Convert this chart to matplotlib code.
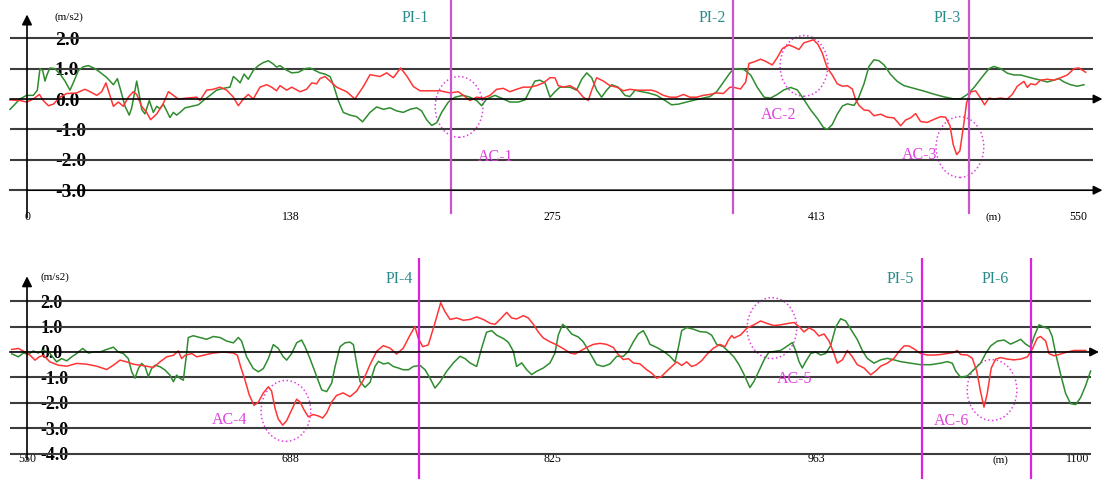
import matplotlib.pyplot as plt
from matplotlib.patches import Ellipse

plt.rcParams['font.family'] = ['Liberation Serif', 'DejaVu Serif']

# ---- upper section, 0-550 m ----
top_red_d = [-8.9, -3.7, -0.2, 3.3, 6.5, 8.5, 11.2, 13.8, 17.3, 20.8, 26.0, 30.3, 33.0, 36.5, 39.1, 41.3,
             43.1, 45.2, 47.8, 50.4, 53.0, 55.6, 57.4, 60.0, 62.6, 64.7, 67.9, 71.3, 74.0, 76.6, 79.2, 83.6,
             88.8, 90.5, 94.0, 97.5, 101.0, 104.5, 108.0, 110.6, 113.2, 115.8, 118.4, 121.9, 125.4, 128.0,
             130.6, 132.4, 135.9, 138.5, 142.9, 146.3, 149.0, 151.6, 153.3, 155.9, 158.6, 162.0, 167.3,
             171.6, 176.0, 179.5, 184.7, 188.2, 191.7, 195.5, 198.7, 202.2, 205.7, 210.9, 216.1, 221.4,
             225.7, 229.2, 231.8, 235.3, 238.8, 242.3, 245.8, 249.3, 252.7, 256.2, 259.7, 263.2, 266.7,
             270.2, 273.7, 276.3, 278.0, 280.7, 284.1, 287.6, 291.1, 293.7, 295.5, 298.1, 301.6, 305.1,
             308.6, 312.1, 315.5, 319.0, 322.5, 326.9, 329.5, 333.0, 336.5, 340.0, 343.5, 346.9, 350.4,
             353.9, 357.4, 360.9, 364.4, 367.9, 370.0, 373.4, 376.1, 377.8, 380.4, 383.9, 386.5, 390.0,
             392.6, 395.3, 398.7, 401.4, 404.0, 406.6, 409.2, 411.5, 413.9, 416.2, 418.8, 421.4, 424.0,
             426.7, 429.3, 431.9, 433.6, 435.4, 438.0, 440.6, 443.2, 446.7, 450.2, 453.7, 457.2, 459.8,
             462.4, 465.0, 467.6, 471.1, 474.6, 478.1, 480.7, 483.0, 484.7, 486.5, 488.2, 490.3, 491.7,
             493.8, 496.4, 499.0, 501.1, 503.4, 506.0, 509.5, 513.0, 515.6, 518.2, 521.7, 523.5, 525.2,
             527.8, 530.4, 533.9, 537.4, 540.9, 544.4, 547.9, 550.5, 554.0]
top_red = [-0.03, -0.05, -0.1, 0, 0.15, -0.05, -0.22, -0.17, 0.06, 0.18, 0.2, 0.32, 0.24, 0.12, 0.24, 0.53,
           0.18, -0.24, -0.1, -0.24, 0.06, 0.24, 0.15, -0.24, -0.44, -0.68, -0.49, -0.15, 0.24, 0.12, 0, 0.03,
           0.06, -0.05, 0.29, 0.32, 0.39, 0.29, 0.06, -0.22, 0, 0.15, 0, 0.39, 0.47, 0.39,
           0.27, 0.44, 0.29, 0.39, 0.24, 0.32, 0.53, 0.5, 0.67, 0.74, 0.59, 0.39, 0.24,
           0, 0.41, 0.8, 0.74, 0.86, 0.7, 1.02, 0.76, 0.41, 0.27, 0.27, 0.27, 0.2,
           0.24, 0.08, -0.05, 0.06, 0.03, 0.12, 0.32, 0.35, 0.24, 0.32, 0.39, 0.39, 0.44,
           0.53, 0.7, 0.7, 0.44, 0.39, 0.44, 0.32, 0.06, -0.05, 0.29, 0.7, 0.59, 0.44,
           0.39, 0.27, 0.32, 0.29, 0.29, 0.29, 0.24, 0.12, 0.06, 0.06, 0.15, 0.06, 0.06,
           0.12, 0.15, 0.2, 0.18, 0.39, 0.38, 0.33, 0.56, 1.17, 1.22, 1.31, 1.24, 1.12,
           1.36, 1.66, 1.78, 1.71, 1.63, 1.85, 1.9, 1.95, 1.8, 1.51, 1.02, 0.79, 0.5,
           0.42, 0.44, 0.33, -0.02, -0.21, -0.36, -0.38, -0.55, -0.5, -0.6, -0.62, -0.88, -0.69,
           -0.62, -0.48, -0.74, -0.77, -0.67, -0.58, -0.6, -0.88, -1.5, -1.83, -1.7, -0.79, -0.12,
           0.23, 0.27, 0.03, -0.19, 0.03, 0, 0.03, 0, 0.15, 0.42, 0.58, 0.38, 0.5,
           0.47, 0.62, 0.65, 0.62, 0.7, 0.79, 1.0, 1.02, 0.88]

top_green_d = [-8.9, -6.3, -3.7, -0.2, 3.3, 5.4, 6.8, 8.2, 9.4, 10.6, 12.0, 14.6, 17.3, 19.9, 22.5, 24.6,
               26.9, 29.5, 32.1, 35.6, 38.2, 41.7, 45.2, 47.3, 49.0, 51.3, 53.5, 54.8, 56.5, 57.4, 58.8,
               60.0, 61.7, 64.0, 66.1, 67.9, 69.6, 71.3, 73.1, 74.8, 76.6, 78.3, 80.1, 82.7, 86.2, 89.7,
               92.3, 95.8, 99.2, 102.7, 106.2, 108.0, 109.7, 111.5, 113.6, 115.8, 118.4, 121.1, 123.7,
               126.3, 128.9, 130.6, 132.4, 135.0, 138.5, 142.0, 145.5, 148.1, 150.7, 153.3, 155.9, 158.6,
               160.3, 162.9, 165.5, 169.0, 172.5, 175.6, 177.7, 179.5, 183.0, 186.5, 190.0, 193.4, 196.9,
               200.4, 203.9, 206.5, 209.1, 211.8, 214.4, 217.0, 220.5, 224.0, 228.3, 231.8, 235.3, 237.9,
               240.5, 244.9, 249.3, 252.7, 257.1, 260.6, 263.2, 265.8, 268.4, 271.1, 273.7, 276.3, 278.9,
               284.1, 287.6, 290.3, 292.9, 295.5, 298.1, 300.7, 303.3, 306.0, 309.4, 312.9, 315.5, 318.2,
               321.7, 325.1, 329.5, 333.9, 337.3, 340.8, 345.2, 349.6, 353.9, 357.4, 360.9, 364.4, 367.9,
               370.0, 375.2, 378.7, 382.2, 385.7, 389.1, 392.6, 396.1, 399.6, 403.1, 406.6, 410.1, 413.6,
               416.7, 418.8, 421.4, 424.0, 426.7, 429.3, 432.8, 434.8, 438.0, 440.6, 443.2, 445.8, 448.5,
               451.9, 455.4, 458.9, 464.2, 469.4, 474.6, 479.9, 485.1, 488.6, 492.1, 495.6, 499.9, 503.4,
               506.0, 509.5, 513.0, 516.5, 520.0, 523.5, 527.0, 530.4, 533.9, 537.4, 540.0, 542.7, 546.1,
               549.6, 553.1]
top_green = [-0.34, -0.17, 0, 0.12, 0.12, 0.29, 1.0, 0.94, 0.59, 0.82, 1.02, 1.0, 0.82, 0.59, 0.29, 0.59,
             0.94, 1.06, 1.1, 1.0, 0.88, 0.71, 0.47, 0.67, 0.29, -0.24, -0.53, -0.29, 0.29, 0.59, 0.12,
             -0.34, -0.49, -0.05, -0.44, -0.24, -0.32, -0.17, -0.39, -0.61, -0.44, -0.53, -0.44, -0.29, -0.24, -0.19,
             -0.05, 0.12, 0.29, 0.35, 0.39, 0.74, 0.65, 0.53, 0.82, 0.65, 0.94, 1.1, 1.2,
             1.26, 1.15, 1.05, 1.1, 0.98, 0.86, 0.88, 1.0, 1.02, 0.94, 0.86, 0.82, 0.74,
             0.47, -0.05, -0.44, -0.53, -0.58, -0.75, -0.58, -0.44, -0.26, -0.34, -0.29, -0.39, -0.44,
             -0.34, -0.29, -0.39, -0.68, -0.87, -0.78, -0.44, -0.1, 0.06, 0.12, 0.06, -0.05, -0.22,
             0, 0.12, 0, -0.1, -0.1, -0.03, 0.29, 0.59, 0.62, 0.53, 0.06, 0.24, 0.39,
             0.39, 0.29, 0.65, 0.86, 0.7, 0.29, 0.06, 0.29, 0.47, 0.39, 0.12, 0.08, 0.29,
             0.24, 0.2, 0.12, -0.05, -0.19, -0.17, -0.1, -0.03, 0.03, 0.08, 0.24, 0.55, 0.86,
             1.0, 0.97, 0.79, 0.38, 0.06, 0.03, 0.15, 0.3, 0.38, 0.3, -0.02, -0.36, -0.64,
             -0.93, -1.0, -0.84, -0.5, -0.23, -0.16, -0.21, -0.02, 0.5, 1.07, 1.29, 1.26, 1.12,
             0.81, 0.58, 0.44, 0.35, 0.26, 0.16, 0.07, 0, 0.01, 0.15, 0.38, 0.73, 1.0,
             1.07, 1.0, 0.85, 0.79, 0.79, 0.73, 0.67, 0.62, 0.56, 0.62, 0.67, 0.56, 0.47,
             0.42, 0.47]

# ---- lower section, 550-1100 m ----
bot_red_d = [542.0, 545.5, 548.9, 551.6, 554.2, 556.4, 558.6, 562.0, 566.4, 570.8, 576.0, 581.2, 586.5,
             591.7, 595.2, 598.7, 602.2, 605.6, 609.1, 612.6, 616.1, 619.6, 623.1, 626.6, 629.2, 630.9,
             632.7, 636.2, 638.8, 642.3, 647.5, 652.7, 658.0, 660.1, 661.8, 664.1, 666.3, 668.8, 671.1,
             673.7, 676.3, 678.0, 679.8, 681.5, 683.8, 685.9, 688.5, 691.1, 692.9, 695.0, 697.2, 699.8,
             702.5, 704.7, 706.8, 709.4, 712.0, 715.5, 719.0, 722.5, 726.0,
             729.5, 733.0, 736.5, 740.0, 743.4, 746.9, 750.4, 753.0, 754.8, 757.1, 760.0, 763.5, 766.5,
             768.7, 771.4, 774.8, 778.3, 781.8, 785.3, 788.8, 792.3, 794.9, 797.5, 801.0, 803.6, 806.2,
             809.7, 812.3, 815.0, 817.6, 820.2, 823.7, 827.2, 830.7, 834.2, 836.8, 839.4, 842.9, 846.4,
             849.9, 853.3, 856.8, 859.4, 862.1, 864.7, 867.3, 870.8, 874.3, 876.9, 879.5, 882.1, 884.7,
             887.4, 890.0, 892.6, 895.2, 897.8, 900.4, 903.1, 905.7, 909.2, 912.6, 915.3, 917.0, 918.8,
             920.0, 923.4, 926.9, 930.4, 933.9, 937.4, 940.9, 944.4, 947.9, 951.4, 954.0, 956.6, 959.2,
             961.8, 964.4, 967.1, 969.7, 972.3, 974.0, 976.7, 979.3, 981.9, 984.5, 988.0, 991.5, 994.1,
             996.7, 1000.2, 1003.7, 1006.3, 1009.0, 1011.5, 1014.2, 1017.6, 1021.1, 1024.6, 1028.1,
             1031.6, 1035.1, 1036.8, 1038.6, 1042.1, 1044.7, 1047.0, 1049.0, 1050.8, 1052.5, 1054.6,
             1056.9, 1059.5, 1063.0, 1066.5, 1070.0, 1073.5, 1076.1, 1078.7, 1080.4, 1083.1, 1084.8,
             1087.4, 1090.0, 1094.4, 1097.9, 1101.4, 1104.0]
bot_red = [0.1, 0.14, 0, -0.13, -0.32, -0.19, -0.13, -0.39, -0.52, -0.56, -0.45, -0.48, -0.56,
           -0.69, -0.52, -0.32, -0.39, -0.48, -0.52, -0.56, -0.61, -0.39, -0.19, -0.13, 0.04, -0.26,
           -0.13, -0.06, -0.19, -0.13, -0.04, 0, -0.04, -0.13, -0.58, -1.11, -1.69, -2.1, -1.97,
           -1.61, -1.37, -1.54, -2.22, -2.64, -2.88, -2.7, -2.28, -1.86, -1.97, -2.28, -2.55, -2.46,
           -2.52, -2.6, -2.4, -1.97, -1.71, -1.61, -1.76, -1.54, -1.11,
           -0.5, 0.03, 0.25, 0.15, -0.08, 0.15, 0.66, 1.0, 0.53, 0.21, 0.28, 1.15, 1.94,
           1.59, 1.28, 1.34, 1.25, 1.28, 1.38, 1.28, 1.13, 1.09, 1.28, 1.56, 1.34, 1.3,
           1.43, 1.34, 1.09, 0.78, 0.55, 0.4, 0.28, 0.13, -0.04, -0.08, 0.03, 0.18, 0.3,
           0.34, 0.3, 0.18, -0.1, -0.3, -0.26, -0.43, -0.47, -0.7, -0.83, -1.03, -0.96, -0.76,
           -0.57, -0.39, -0.53, -0.39, -0.57, -0.5, -0.34, -0.1, 0.15, 0.3, 0.21, 0.46, 0.65,
           0.55, 0.67, 0.95, 1.07, 1.22, 1.12, 1.04, 1.07, 1.12, 1.16, 1.0, 0.79, 0.95,
           0.85, 0.63, 0.71, 0.43, -0.06, -0.44, -0.31, 0.06, -0.19, -0.5, -0.63, -0.9, -0.75,
           -0.56, -0.44, -0.25, 0.02, 0.24, 0.24, 0.12, -0.06, -0.12, -0.12, -0.1,
           -0.06, -0.02, 0.06, -0.1, -0.12, -0.25, -0.75, -1.56, -2.17, -1.63, -0.63,
           -0.28, -0.22, -0.28, -0.31, -0.28, -0.19, 0.12, 0.55, 0.61, 0.43, -0.06,
           -0.15, -0.1, 0, 0.06, 0.06, 0.06]

bot_green_d = [542.0, 545.5, 548.1, 550.7, 553.3, 555.9, 558.6, 562.0, 565.5, 568.1, 570.8, 573.4, 576.0,
               579.1, 582.1, 584.7, 588.2, 591.7, 595.2, 597.8, 600.4, 603.0, 604.8, 606.5, 608.3, 610.0,
               611.8, 613.5, 615.2, 617.0, 619.6, 622.2, 624.8, 626.6, 628.3, 630.1, 631.8, 633.2, 634.4,
               637.0, 640.5, 644.0, 647.5, 651.0, 654.5, 658.0, 660.6, 662.3, 664.9, 668.4, 671.1, 673.7,
               676.3, 678.9, 681.5, 684.1, 685.9, 688.5, 691.1, 693.7, 695.5, 698.1, 701.6, 704.2, 706.8,
               709.4, 711.2, 713.8, 716.4, 719.0, 720.8, 722.5, 724.3, 726.9,
               729.5, 732.1, 733.9, 736.5, 739.1, 741.7, 744.3, 746.9, 749.6, 752.2, 755.7, 758.3, 760.9,
               763.5, 766.1, 769.6, 773.1, 776.6, 779.2, 781.8, 785.3, 787.9, 790.5, 793.2, 795.8, 799.3,
               801.9, 804.5, 806.2, 808.9, 811.5, 814.1, 816.7, 820.2, 823.7, 826.3, 828.0, 830.3, 832.4,
               835.0, 838.5, 841.1, 844.6, 848.1, 851.6, 855.1, 858.6, 862.1, 864.7, 867.3, 869.9, 872.5,
               874.3, 876.0, 879.5, 883.0, 886.5, 889.1, 890.8, 892.6, 895.2, 898.7, 902.2, 905.7, 908.3,
               910.9, 914.4, 917.9,
               920.0, 922.6, 925.2, 928.3, 930.4, 933.0, 935.7, 938.3, 940.9, 944.4, 947.9, 950.5, 952.2,
               954.0, 955.7, 957.5, 960.1, 962.7, 965.3, 967.9, 970.5, 973.2, 975.8, 978.4, 981.0, 984.5,
               987.1, 989.7, 993.2, 996.7, 1000.2, 1003.7, 1007.2, 1012.4, 1017.6, 1022.9, 1028.1, 1031.6,
               1034.2, 1036.0, 1038.6, 1042.1, 1045.6, 1049.0, 1051.7, 1054.3, 1057.8, 1061.3, 1064.7,
               1067.4, 1070.0, 1072.6, 1075.2, 1077.0, 1079.6, 1082.2, 1084.8, 1086.5, 1088.3, 1090.9,
               1093.5, 1096.1, 1098.8, 1101.4, 1104.0, 1106.6]
bot_green = [-0.07, -0.19, -0.04, -0.09, 0.04, -0.04, 0.07, -0.06, -0.39, -0.26, -0.35, -0.19, -0.06,
             0.14, -0.04, 0, 0, 0.1, 0.19, 0, -0.06, -0.26, -0.78, -1.03, -0.65, -0.45,
             -0.58, -0.97, -0.65, -0.52, -0.58, -0.71, -0.91, -1.17, -0.91, -1.04, -1.11, -0.26, 0.57,
             0.64, 0.57, 0.5, 0.61, 0.57, 0.43, 0.36, 0.57, 0.43, -0.19, -0.65, -0.78, -0.65,
             -0.26, 0.29, 0.14, -0.19, -0.32, -0.06, 0.36, 0.47, 0.21, -0.26, -0.97, -1.49, -1.56,
             -1.23, -0.58, 0.21, 0.36, 0.39, 0.29, -0.45, -1.17, -1.39,
             -1.2, -0.57, -0.37, -0.47, -0.43, -0.57, -0.63, -0.7, -0.7, -0.57, -0.53, -0.7, -1.03,
             -1.42, -1.18, -0.76, -0.43, -0.17, -0.26, -0.43, -0.57, 0.15, 0.78, 0.84, 0.66, 0.53,
             0.38, 0.03, -0.57, -0.43, -0.7, -0.89, -0.76, -0.63, -0.43, -0.04, 0.66, 1.09, 0.96,
             0.71, 0.59, 0.4, -0.04, -0.5, -0.57, -0.47, -0.17, -0.17, 0.03, 0.4, 0.71, 0.84,
             0.59, 0.3, 0.18, 0.03, -0.17, -0.39, 0.15, 0.84, 0.96, 0.9, 0.8, 0.78, 0.66,
             0.3, 0.21, -0.04,
             -0.2, -0.5, -0.88, -1.4, -1.16, -0.75, -0.31, 0, 0.02, 0.06, 0.24, 0.37, 0.06,
             -0.38, -0.63, -0.38, -0.06, 0, -0.12, -0.06, 0.24, 0.98, 1.31, 1.22, 0.91, 0.49,
             0.06, -0.25, -0.44, -0.31, -0.25, -0.31, -0.38, -0.44, -0.5, -0.5, -0.44, -0.38,
             -0.44, -0.75, -1.0, -0.94, -0.69, -0.44, -0.06, 0.24, 0.43, 0.47, 0.31,
             0.4, 0.5, 0.31, 0.19, 0.61, 1.07, 0.98, 0.91, 0.61, -0.06, -0.88,
             -1.63, -2.03, -2.07, -1.79, -1.32, -0.75]

top_levels = [2, 1, 0, -1, -2, -3]
bot_levels = [2, 1, 0, -1, -2, -3, -4]
top_ticks = [0, 138, 275, 413, 550]
bot_ticks = [550, 688, 825, 963, 1100]

top_pi = [221.9, 369.6, 492.9]
top_pi_lab = ['PI-1', 'PI-2', 'PI-3']
bot_pi = [755.3, 1018.2, 1075.5]
bot_pi_lab = ['PI-4', 'PI-5', 'PI-6']

top_ac = ['AC-1', 'AC-2', 'AC-3']
top_ac_centre = [(226.1, -0.26), (406.6, 1.09), (488.2, -1.58)]
bot_ac = ['AC-4', 'AC-5', 'AC-6']
bot_ac_centre = [(685.5, -2.32), (939.8, 0.94), (1055.0, -1.50)]

GREEN = '#2f8c2f'
RED = '#ff3535'
GRID = '#3c3c3c'
TEAL = '#2a8a8a'
PINK = '#e040e0'

fig = plt.figure(figsize=(11.04, 4.79), dpi=100)
ax1 = fig.add_axes([0, 1 - 220 / 479, 1, 220 / 479])
ax2 = fig.add_axes([0, 0, 1, 221 / 479])


def base(ax, x0, ylim, levels, ticks, xpad, ypad, yfs):
    ax.set_xlim(x0 - 14.13, x0 + 563.6)
    ax.set_ylim(*ylim)
    for s in ax.spines.values():
        s.set_visible(False)
    ax.set_yticks(levels, [f'{v:.1f}' for v in levels])
    ax.tick_params(axis='y', length=0, pad=ypad, labelsize=yfs)
    plt.setp(ax.get_yticklabels(), ha='left', fontweight='bold')
    ax.set_xticks(ticks, [str(t) for t in ticks])
    ax.tick_params(axis='x', length=0, pad=xpad, labelsize=8.5)


def arrow(ax, start, end, ms=13):
    ax.annotate('', xy=end, xytext=start,
                arrowprops=dict(arrowstyle='-|>', color='k', lw=1.2,
                                mutation_scale=ms, shrinkA=0, shrinkB=0))


# upper
base(ax1, 0, (-3.98, 3.257), top_levels, top_ticks, -6.5, -39.5, 14)
ax1.hlines([2, 1, -1, -2], -8.9, 558, color=GRID, lw=1.5)
arrow(ax1, (-8.9, 0), (562.8, 0))
ax1.plot([-8.9, 0], [-3, -3], color=GRID, lw=1.5)
arrow(ax1, (0, -3), (562.8, -3))
arrow(ax1, (0, -3.9), (0, 2.78), ms=15)
ax1.plot(top_green_d, top_green, color=GREEN, lw=1.1)
ax1.plot(top_red_d, top_red, color=RED, lw=1.1)
for p, lab, dx in zip(top_pi, top_pi_lab, [-18.8, -11, -11.5]):
    ax1.axvline(p, ymin=0.03, color='#cc55cc', lw=1.6)
    ax1.text(p + dx, 2.65, lab, ha='center', va='center', color=TEAL, fontsize=11.5)
for lab, (cx, cy), (tx, ty) in zip(top_ac, top_ac_centre,
                                   [(245.4, -1.91), (393.5, -0.53), (467.3, -1.84)]):
    ax1.add_patch(Ellipse((cx, cy), 25, 2.0, fill=False, ls=':', ec=PINK, lw=1.1))
    ax1.text(tx, ty, lab, ha='center', va='center', color=PINK, fontsize=11.5)
ax1.text(22, 2.70, '(m/s2)', ha='center', va='center', fontsize=8)
ax1.text(505.5, -3.88, '(m)', ha='center', va='center', fontsize=8)

# lower
base(ax2, 550, (-5.0, 3.70), bot_levels, bot_ticks, -18.7, -29, 13)
ax2.hlines([2, 1, -1, -2, -3, -4], 541, 1106.8, color=GRID, lw=1.5)
arrow(ax2, (541, 0), (1111, 0))
arrow(ax2, (550, -4.25), (550, 2.98), ms=15)
ax2.plot(bot_green_d, bot_green, color=GREEN, lw=1.1)
ax2.plot(bot_red_d, bot_red, color=RED, lw=1.1)
for p, lab, dx in zip(bot_pi, bot_pi_lab, [-10.5, -11, -18.8]):
    ax2.axvline(p, color='#dd22dd', lw=1.6)
    ax2.text(p + dx, 2.88, lab, ha='center', va='center', color=TEAL, fontsize=11.5)
for lab, (cx, cy), (tx, ty) in zip(bot_ac, bot_ac_centre,
                                   [(656.2, -2.68), (951.9, -1.08), (1034.0, -2.70)]):
    ax2.add_patch(Ellipse((cx, cy), 26, 2.4, fill=False, ls=':', ec=PINK, lw=1.1))
    ax2.text(tx, ty, lab, ha='center', va='center', color=PINK, fontsize=11.5)
ax2.text(564.7, 2.95, '(m/s2)', ha='center', va='center', fontsize=8)
ax2.text(1059.2, -4.25, '(m)', ha='center', va='center', fontsize=8)

fig.savefig('out.png', dpi=100)
